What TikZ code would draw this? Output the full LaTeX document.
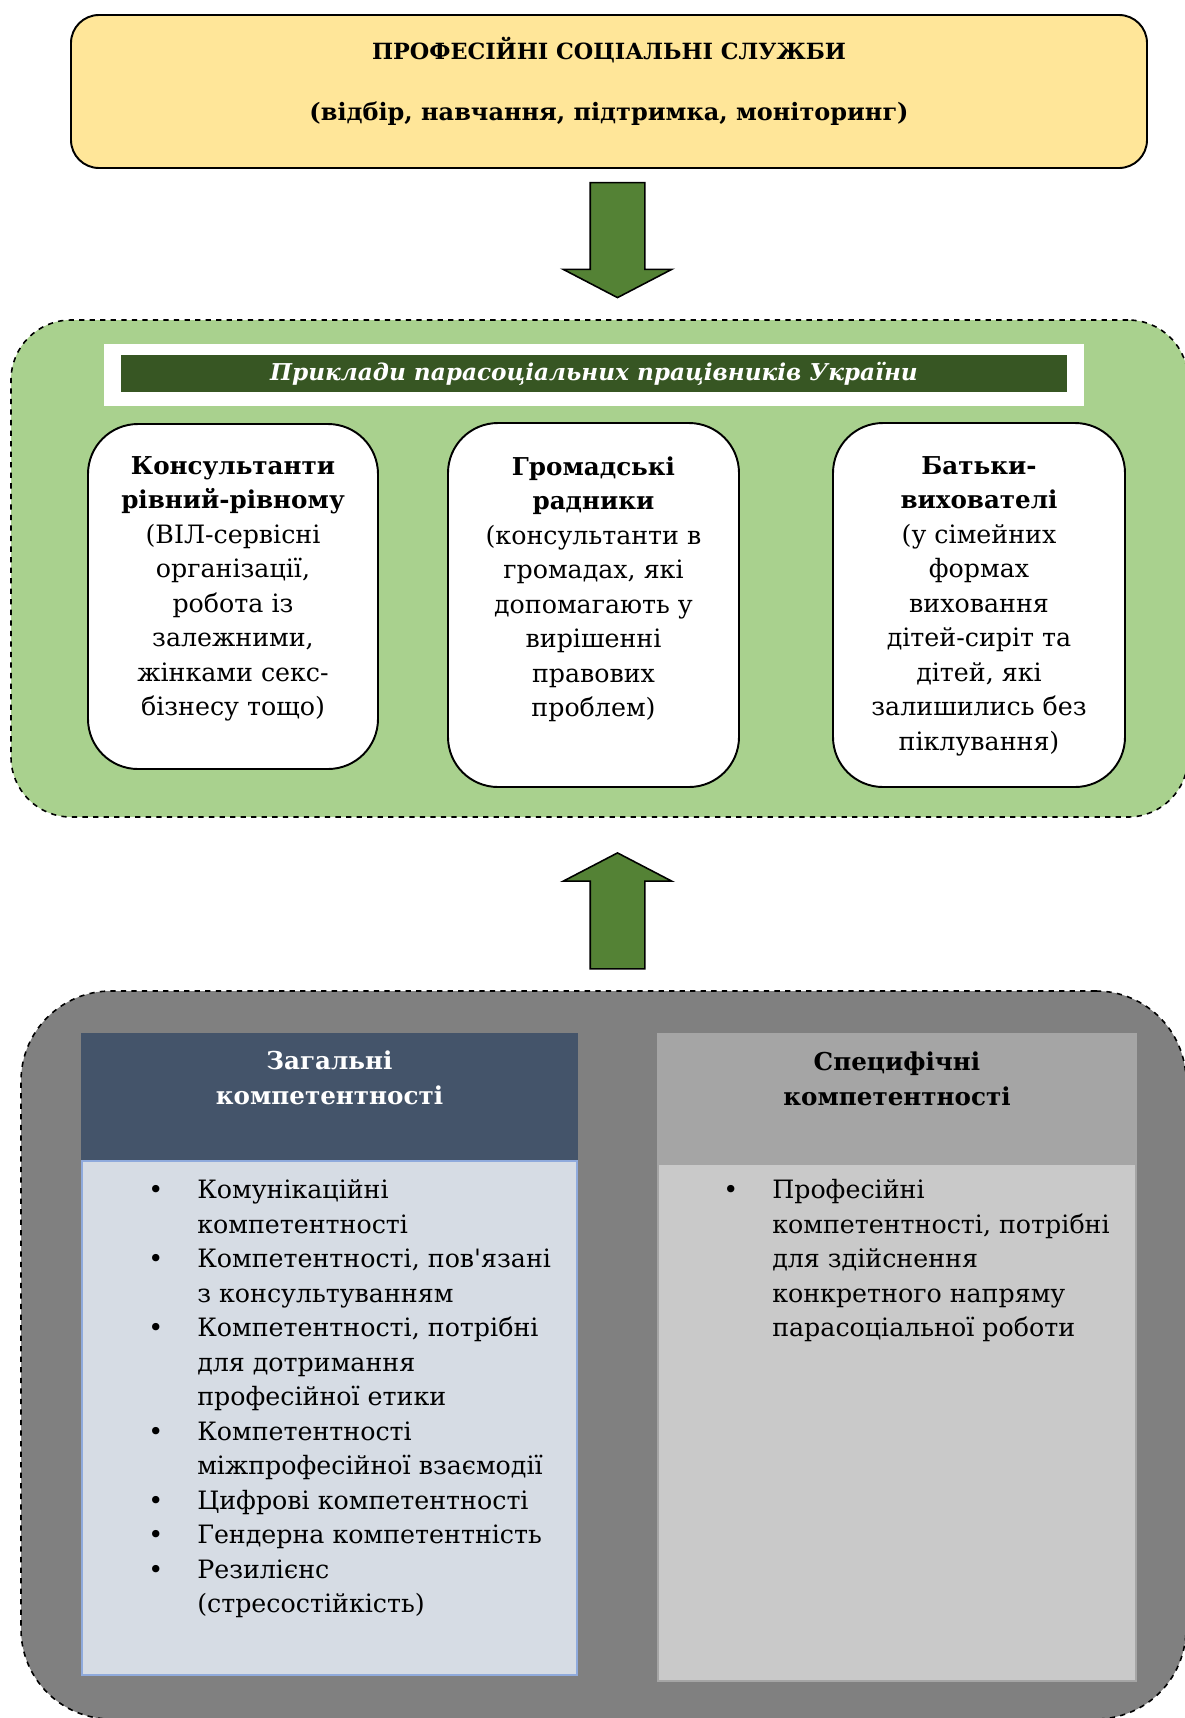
\documentclass[tikz,border=0pt]{standalone}
\usepackage{fontspec}
\setmainfont{DejaVu Serif}
\usepackage{xcolor}
\usetikzlibrary{positioning,shapes.arrows}

\definecolor{zhovtyi}{HTML}{FFE699}
\definecolor{zelenyi}{HTML}{A9D18E}
\definecolor{strilkazel}{HTML}{548235}
\definecolor{temnozel}{HTML}{375623}
\definecolor{siryi}{HTML}{808080}
\definecolor{synii}{HTML}{44546A}
\definecolor{svitlosyn}{HTML}{D6DCE4}
\definecolor{ramkasyn}{HTML}{8FAADC}
\definecolor{siryihead}{HTML}{A5A5A5}
\definecolor{siryibody}{HTML}{C9C9C9}

\newdimen\px
\px=0.02cm
\newcommand{\zhyrnyi}[1]{{\fontsize{14}{19.65}\selectfont\bfseries #1}}

\begin{document}
\begin{tikzpicture}[x=0.02cm, y=-0.02cm, font=\fontsize{14.4}{19.65}\selectfont,
    blok/.style={draw, rectangle, line width=1.1pt, inner sep=0pt},
    ramka/.style={draw, rectangle, dashed, line width=0.9pt, inner sep=0pt},
    strilka/.style={draw, fill=strilkazel, single arrow, line width=0.9pt, inner sep=26.5\px,
        minimum width=108\px, single arrow head extend=27\px, single arrow tip angle=125},
    rivnyi/.style={blok, fill=white, rounded corners=50\px, minimum width=290\px},
    tekst/.style={align=center, inner sep=0pt, anchor=north},
    spysok/.style={inner sep=0pt, anchor=north west}]
    \useasboundingbox (0,0) rectangle (1184,1718);

    % Професійні соціальні служби
    \node [blok, fill=zhovtyi, rounded corners=28\px, minimum width=1076\px, minimum height=153\px] (sluzhby) at (609,91.5) {};
    \node [tekst, font=\fontsize{12.7}{19.65}\selectfont\bfseries, below=23\px of sluzhby.north] (sluzhbytxt)
        {ПРОФЕСІЙНІ СОЦІАЛЬНІ СЛУЖБИ\\[14.8pt]{\fontsize{13.65}{19.65}\selectfont(відбір, навчання, підтримка, моніторинг)}};

    % Стрілка вниз
    \node [strilka, shape border rotate=270, minimum height=115\px] (vnyz) at (617.5,233) {};

    % Приклади парасоціальних працівників
    \node [ramka, fill=zelenyi, rounded corners=60\px, minimum width=1177\px, minimum height=497\px] (pryklady) at (599.5,568.5) {};
    \node [rectangle, fill=white, minimum width=980\px, minimum height=62\px] (banerfon) at (594,374.5) {};
    \node [rectangle, fill=temnozel, text=white, font=\fontsize{13.2}{19.65}\selectfont\bfseries\itshape,
        minimum width=946\px, minimum height=37\px, inner sep=0pt] (baner) at (594,373.5) {Приклади парасоціальних працівників України};

    \node [rivnyi, minimum height=345\px] (konsult) at (233,596.5) {};
    \node [rivnyi, minimum height=364\px, minimum width=291\px] (hromad) at (593.5,605) {};
    \node [rivnyi, minimum height=364\px, minimum width=292\px] (batky) at (979,605) {};

    \node [tekst, below=33\px of konsult.north] (konsulttxt) {\zhyrnyi{Консультанти}\\\zhyrnyi{рівний-рівному}\\(ВІЛ-сервісні\\організації,\\робота із\\залежними,\\жінками секс-\\бізнесу тощо)};
    \node [tekst, below=34\px of hromad.north] (hromadtxt) {\zhyrnyi{Громадські}\\\zhyrnyi{радники}\\(консультанти в\\громадах, які\\допомагають у\\вирішенні\\правових\\проблем)};
    \node [tekst, below=34\px of batky.north] (batkytxt) {\zhyrnyi{Батьки-}\\\zhyrnyi{вихователі}\\(у сімейних\\формах\\виховання\\дітей-сиріт та\\дітей, які\\залишились без\\піклування)};

    % Стрілка вгору
    \node [strilka, shape border rotate=90, minimum height=116\px] (vhoru) at (617.5,918) {};

    % Компетентності
    \node [ramka, fill=siryi, rounded corners=90\px, minimum width=1165\px, minimum height=728\px] (kompet) at (603.5,1355) {};

    \node [rectangle, fill=synii, minimum width=497\px, minimum height=127\px] (zahalni) at (329.5,1096.5) {};
    \node [rectangle, fill=svitlosyn, draw=ramkasyn, line width=1.1pt, minimum width=495\px, minimum height=514\px] (zahalnisp) at (329.5,1418) {};
    \node [rectangle, fill=siryihead, minimum width=480\px, minimum height=130\px] (specyf) at (897,1098) {};
    \node [rectangle, fill=siryibody, draw=siryihead, line width=1.1pt, minimum width=478\px, minimum height=517\px] (specyfsp) at (897,1422.5) {};

    \node [tekst, text=white, font=\fontsize{14}{19.65}\selectfont\bfseries, below=18\px of zahalni.north] (zahalnitxt) {Загальні\\компетентності};
    \node [tekst, font=\fontsize{14}{19.65}\selectfont\bfseries, below=19\px of specyf.north] (specyftxt) {Специфічні\\компетентності};

    \node [spysok] (zahalnilist) at (148,1174) {\begin{tabular}{@{}l@{\hspace{34\px}}l@{}}
        \textbullet & Комунікаційні\\
                    & компетентності\\
        \textbullet & Компетентності, пов\textquotesingle язані\\
                    & з консультуванням\\
        \textbullet & Компетентності, потрібні\\
                    & для дотримання\\
                    & професійної етики\\
        \textbullet & Компетентності\\
                    & міжпрофесійної взаємодії\\
        \textbullet & Цифрові компетентності\\
        \textbullet & Гендерна компетентність\\
        \textbullet & Резилієнс\\
                    & (стресостійкість)
    \end{tabular}};
    \node [spysok] (specyflist) at (723,1174) {\begin{tabular}{@{}l@{\hspace{34\px}}l@{}}
        \textbullet & Професійні\\
                    & компетентності, потрібні\\
                    & для здійснення\\
                    & конкретного напряму\\
                    & парасоціальної роботи
    \end{tabular}};

\end{tikzpicture}
\end{document}
